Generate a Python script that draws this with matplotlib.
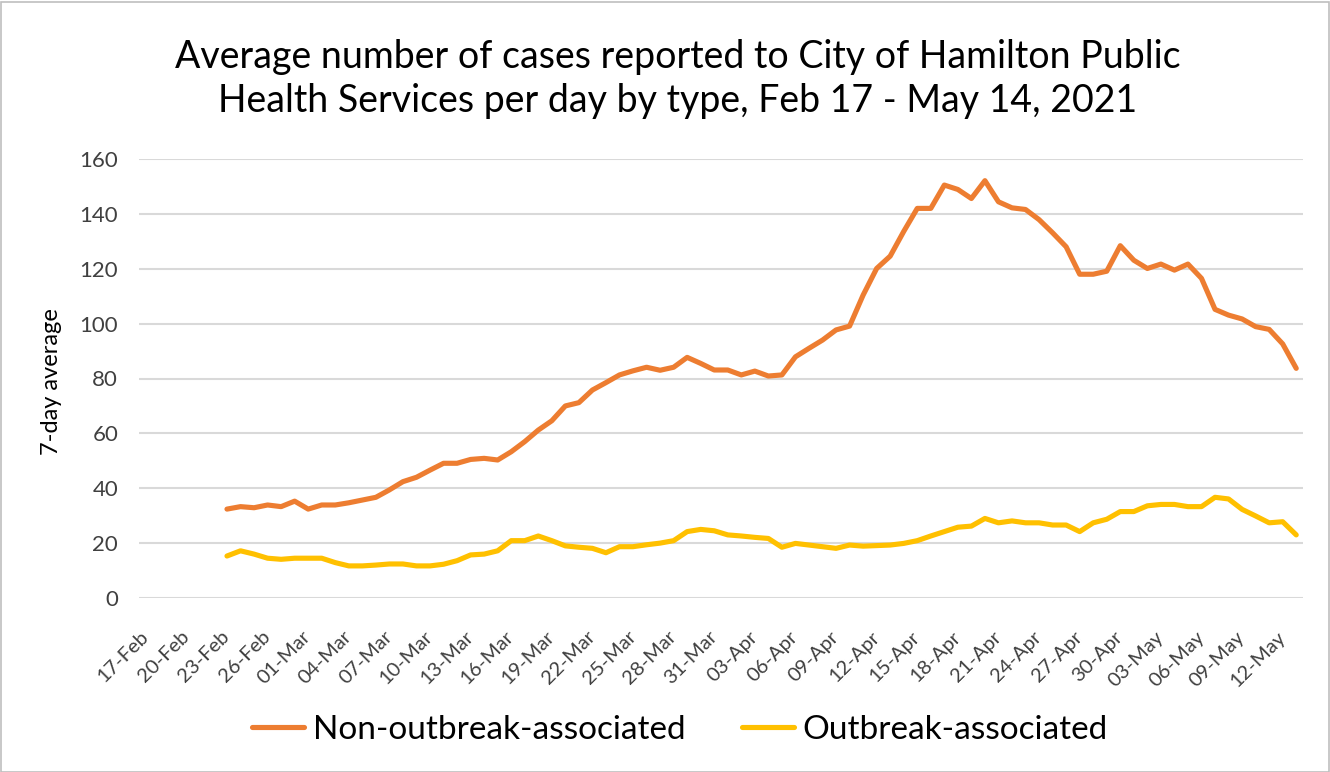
import matplotlib
matplotlib.use("Agg")
import matplotlib.pyplot as plt
from matplotlib.patches import Rectangle
import pandas as pd

# ---- data ----
dates = pd.date_range("2021-02-17", "2021-05-13", freq="D")
tick_labels = [d.strftime("%d-%b") for d in dates[::3]]

non_outbreak = [
    32.4, 33.3, 32.9, 33.9, 33.3, 35.3, 32.4, 33.9, 33.9, 34.7,
    35.7, 36.7, 39.4, 42.4, 44.0, 46.6, 49.1, 49.1, 50.5, 50.9,
    50.3, 53.3, 57.0, 61.2, 64.6, 70.0, 71.2, 75.8, 78.5, 81.3,
    82.8, 84.1, 83.0, 84.1, 87.7, 85.5, 83.1, 83.1, 81.3, 82.7,
    80.9, 81.3, 87.9, 91.0, 94.0, 97.7, 99.1, 110.4, 120.1, 124.6,
    133.6, 142.0, 142.0, 150.5, 148.9, 145.6, 152.1, 144.4, 142.2, 141.6,
    137.9, 133.1, 128.0, 118.0, 118.0, 119.1, 128.4, 123.1, 120.1, 121.7,
    119.5, 121.7, 116.5, 105.2, 103.1, 101.7, 98.9, 97.9, 92.6, 83.7,
]
outbreak = [
    15.3, 17.2, 16.0, 14.5, 14.1, 14.5, 14.5, 14.5, 12.9, 11.7,
    11.7, 12.0, 12.4, 12.4, 11.7, 11.7, 12.3, 13.6, 15.7, 16.0,
    17.2, 20.9, 20.9, 22.6, 20.9, 19.0, 18.5, 18.1, 16.5, 18.7,
    18.7, 19.4, 20.0, 20.9, 24.2, 25.0, 24.5, 23.0, 22.6, 22.1,
    21.7, 18.5, 19.9, 19.3, 18.7, 18.1, 19.3, 18.9, 19.1, 19.3,
    19.9, 20.9, 22.6, 24.2, 25.8, 26.2, 29.0, 27.4, 28.1, 27.4,
    27.4, 26.6, 26.6, 24.2, 27.4, 28.7, 31.5, 31.5, 33.6, 34.1,
    34.1, 33.3, 33.3, 36.7, 36.1, 32.3, 29.9, 27.4, 27.8, 23.0,
]
first_idx = 6  # data starts 23-Feb

title = ("Average number of cases reported to City of Hamilton Public\n"
         "Health Services per day by type, Feb 17 - May 14, 2021")
ylabel = "7-day average"
series_names = ["Non-outbreak-associated", "Outbreak-associated"]
colors = ["#ED7D31", "#FFC000"]

FONT = ["Lato", "DejaVu Sans"]
plt.rcParams["font.family"] = FONT

W, H = 1330, 772
fig = plt.figure(figsize=(W / 100, H / 100), dpi=100)
fig.patch.set_facecolor("white")

ax = fig.add_axes([139 / W, 1 - 598 / H, (1303 - 139) / W, (598 - 159) / H])
n = len(dates)
x = list(range(first_idx, first_idx + len(non_outbreak)))
l1, = ax.plot(x, non_outbreak, color=colors[0], lw=3.7, solid_capstyle="round",
              solid_joinstyle="round", zorder=3)
l2, = ax.plot(x, outbreak, color=colors[1], lw=3.7, solid_capstyle="round",
              solid_joinstyle="round", zorder=3)

ax.set_xlim(-0.5, n - 0.5)
ax.set_ylim(0, 160)
ax.set_yticks(range(0, 161, 20))
ax.yaxis.grid(True, color="#d9d9d9", lw=1.5)
ax.set_axisbelow(True)
for s in ax.spines.values():
    s.set_visible(False)
ax.tick_params(axis="both", length=0, colors="#404040")
ax.tick_params(axis="y", pad=15, labelsize=16)
ax.set_xticks(range(0, n, 3))
ax.set_xticklabels(tick_labels, rotation=45, ha="right", va="center",
                   rotation_mode="anchor", fontsize=14.5, color="#404040")
ax.tick_params(axis="x", pad=26)
for t in ax.get_yticklabels():
    t.set_color("#404040")

fig.text(52 / W, 1 - 382 / H, ylabel, rotation=90, ha="center", va="center",
         fontsize=17, color="black")

fig.text(678 / W, 1 - 79 / H, title, ha="center", va="center",
         fontsize=27, linespacing=1.28, color="black")

fig.legend([l1, l2], series_names, loc="center",
           bbox_to_anchor=(680 / W, 1 - 730 / H),
           ncol=2, frameon=False, fontsize=24, handlelength=1.56,
           handletextpad=0.25, columnspacing=1.7)

fig.add_artist(Rectangle((0.5 / W, 0.5 / H), (W - 2) / W, (H - 2) / H,
                         transform=fig.transFigure, fill=False,
                         edgecolor="#bfbfbf", lw=1.2))

fig.savefig("out.png", dpi=100, facecolor="white")
